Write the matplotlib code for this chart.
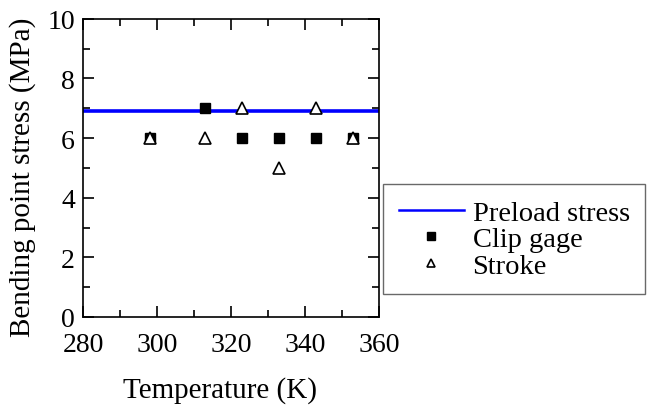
import matplotlib
matplotlib.use("Agg")
import matplotlib.pyplot as plt
from matplotlib.ticker import MultipleLocator

plt.rcParams['font.family'] = ['Liberation Serif', 'DejaVu Serif']

# data
temps = [298, 313, 323, 333, 343, 353]
clip_gage = [6, 7, 6, 6, 6, 6]
stroke = [6, 6, 7, 5, 7, 6]
preload = 6.9
x_range = [280, 360]

fig = plt.figure(figsize=(6.5, 4.14), dpi=100)
ax = fig.add_axes([0.128, 0.232, 0.455, 0.720])

ax.plot(x_range, [preload, preload], color='#0000ff', lw=2.6, label='Preload stress')
ax.plot(temps, clip_gage, ls='none', marker='s', ms=7.5, color='black', label='Clip gage')
ax.plot(temps, stroke, ls='none', marker='^', ms=8.5, mfc='white', mec='black', mew=1.2, label='Stroke')

ax.set_xlim(280, 360)
ax.set_ylim(0, 10)
ax.xaxis.set_major_locator(MultipleLocator(20))
ax.xaxis.set_minor_locator(MultipleLocator(10))
ax.yaxis.set_major_locator(MultipleLocator(2))
ax.yaxis.set_minor_locator(MultipleLocator(1))
ax.tick_params(which='both', direction='in', top=True, right=True, labelsize=20, width=1.2)
ax.tick_params(which='major', length=8)
ax.tick_params(which='minor', length=5)
ax.tick_params(axis='x', pad=11)
ax.tick_params(axis='y', pad=6)
for s in ax.spines.values():
    s.set_linewidth(1.2)

ax.set_xlabel('Temperature (K)', fontsize=21, va='center')
ax.xaxis.set_label_coords(0.463, -0.242)
ax.set_ylabel('Bending point stress (MPa)', fontsize=21, va='center')
ax.yaxis.set_label_coords(-0.206, 0.473)

handles, labels = ax.get_legend_handles_labels()
handles[0] = plt.Line2D([], [], color='#0000ff', lw=1.8)
leg = fig.legend(handles, labels, loc='upper left', bbox_to_anchor=(0.589, 0.553),
                 fontsize=20.5, frameon=True, fancybox=False, edgecolor='#444444',
                 handlelength=2.3, handletextpad=0.3, labelspacing=0.02,
                 borderpad=0.55, borderaxespad=0, markerscale=0.75)
leg.get_frame().set_linewidth(1.0)

fig.savefig('out.png', dpi=100)
